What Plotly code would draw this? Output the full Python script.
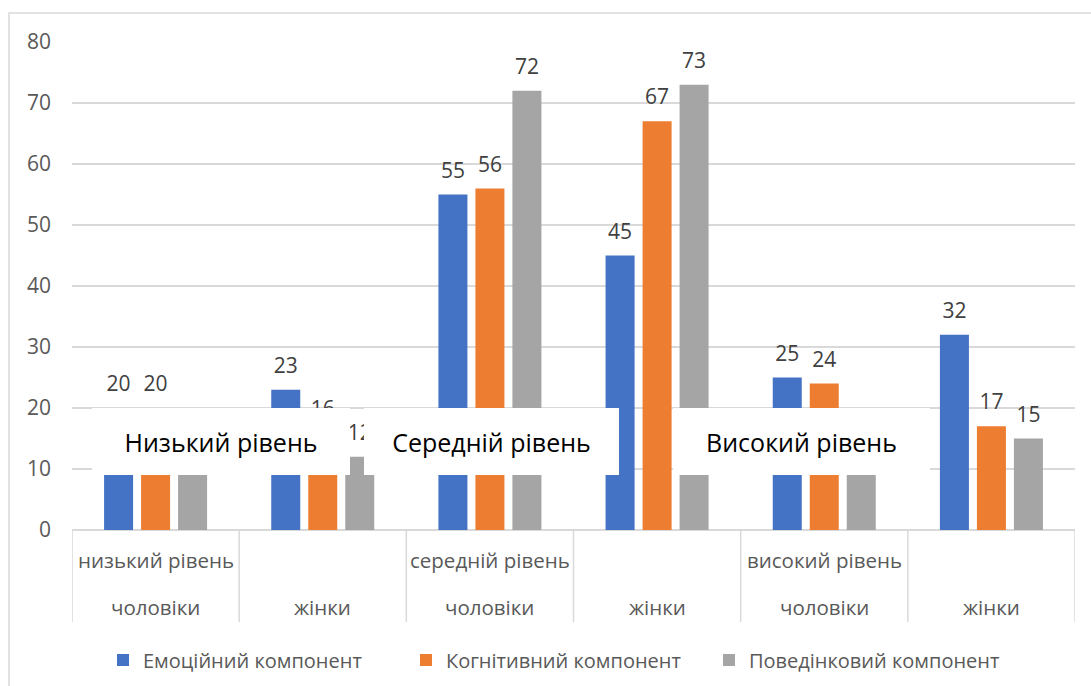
import plotly.graph_objects as go

# Categories: level (row 1) and gender (row 2)
levels = ["низький рівень", "", "середній рівень", "", "високий рівень", ""]
genders = ["чоловіки", "жінки", "чоловіки", "жінки", "чоловіки", "жінки"]
cat_ids = ["низький чоловіки", "низький жінки", "середній чоловіки",
           "середній жінки", "високий чоловіки", "високий жінки"]

# Series values (%)
series_names = ["Емоційний компонент", "Когнітивний компонент", "Поведінковий компонент"]
emotional = [20, 23, 55, 45, 25, 32]
cognitive = [20, 16, 56, 67, 24, 17]
behavioral = [14, 12, 72, 73, 14, 15]

# Overlay captions
box_labels = ["Низький рівень", "Середній рівень", "Високий рівень"]

y_ticks = [0, 10, 20, 30, 40, 50, 60, 70, 80]

colors = ["#4472C4", "#ED7D31", "#A5A5A5"]
FONT = "Open Sans, Noto Sans, sans-serif"
GRID = "#D9D9D9"
TXT = "#595959"
BARGAP = 0.336

fig = go.Figure()
for name, vals, col in zip(series_names, [emotional, cognitive, behavioral], colors):
    fig.add_trace(go.Bar(
        name=name, x=cat_ids, y=vals, marker=dict(color=col, line=dict(width=0)),
        hoverinfo="y",
    ))
# value labels, grouped the same way as the bars
for name, vals in zip(series_names, [emotional, cognitive, behavioral]):
    fig.add_trace(go.Scatter(
        x=cat_ids, y=vals, mode="markers+text", text=[str(v) for v in vals],
        textposition="top center", showlegend=False, cliponaxis=False,
        marker=dict(size=17, color="rgba(0,0,0,0)"),
        textfont=dict(family=FONT, size=21, color="#404040"),
        hoverinfo="skip", orientation="v",
    ))

shapes = []
# outer chart border
shapes.append(dict(type="rect", xref="paper", yref="paper",
                   x0=-0.0628, x1=1.2, y0=-0.5, y1=1.0594,
                   line=dict(color=GRID, width=1.5), fillcolor="rgba(0,0,0,0)", layer="below"))
# category table dividers
for i in range(len(cat_ids) + 1):
    shapes.append(dict(type="line", xref="x", yref="paper", x0=i - 0.5, x1=i - 0.5,
                       y0=0, y1=-0.1885, line=dict(color=GRID, width=1.5)))

annotations = []
for i, (lv, g) in enumerate(zip(levels, genders)):
    if lv:
        annotations.append(dict(x=i, y=-0.0615, xref="x", yref="paper", text=lv,
                                showarrow=False, yanchor="middle",
                                font=dict(family=FONT, size=20.5, color=TXT)))
    annotations.append(dict(x=i, y=-0.158, xref="x", yref="paper", text=g,
                            showarrow=False, yanchor="middle",
                            font=dict(family=FONT, size=20.5, color=TXT)))

# white caption boxes laid over the lower part of the bars
box_x = [0.391, 2.009, 3.864]
box_w = [258, 255, 257]
for lbl, bx, bw in zip(box_labels, box_x, box_w):
    annotations.append(dict(x=bx, y=14.5, xref="x", yref="y", text=lbl,
                            showarrow=False, width=bw, height=67, bgcolor="white",
                            borderpad=0, borderwidth=0, xanchor="center", yanchor="middle",
                            font=dict(family=FONT, size=25, color="black")))

fig.update_layout(
    width=1091, height=686,
    margin=dict(l=72, r=16, t=42, b=156),
    paper_bgcolor="white", plot_bgcolor="white",
    barmode="group", bargap=BARGAP, bargroupgap=0.216,
    scattermode="group", scattergap=BARGAP,
    font=dict(family=FONT, color=TXT),
    showlegend=True,
    legend=dict(orientation="h", xref="container", yref="container",
                x=103 / 1091, y=1 - 660 / 686, xanchor="left", yanchor="middle",
                entrywidth=258, font=dict(family=FONT, size=20, color=TXT),
                itemclick=False),
    shapes=shapes, annotations=annotations,
)
fig.update_xaxes(type="category", categoryorder="array", categoryarray=cat_ids,
                 range=[-0.5, 5.5], showticklabels=False, showgrid=False,
                 showline=False, zeroline=False, ticks="")
fig.update_yaxes(range=[0, 80], tickvals=y_ticks, showgrid=True, gridcolor=GRID,
                 gridwidth=1.5, zeroline=True, zerolinecolor=GRID, zerolinewidth=1.5,
                 showline=False, ticks="", ticklabelstandoff=20,
                 tickfont=dict(family=FONT, size=21, color=TXT))

fig.write_html("out.html")
